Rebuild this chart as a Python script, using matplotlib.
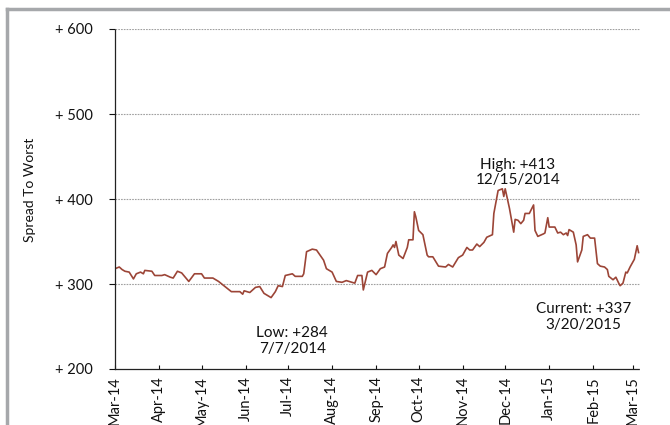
import pandas as pd
import matplotlib
matplotlib.use("Agg")
import matplotlib.pyplot as plt
import matplotlib.dates as mdates
from matplotlib.lines import Line2D
from matplotlib.ticker import FuncFormatter

plt.rcParams['font.family'] = ['Lato', 'DejaVu Sans']

dates = [
    "2014-03-01", "2014-03-04", "2014-03-06", "2014-03-08", "2014-03-11", "2014-03-14",
    "2014-03-16", "2014-03-19", "2014-03-21", "2014-03-22", "2014-03-27", "2014-03-29",
    "2014-04-03", "2014-04-05", "2014-04-09", "2014-04-11", "2014-04-14", "2014-04-17",
    "2014-04-20", "2014-04-22", "2014-04-26", "2014-05-01", "2014-05-03", "2014-05-09",
    "2014-05-13", "2014-05-16", "2014-05-19", "2014-05-22", "2014-05-28", "2014-05-30",
    "2014-05-31", "2014-06-04", "2014-06-08", "2014-06-11", "2014-06-14", "2014-06-19",
    "2014-06-22", "2014-06-24", "2014-06-27", "2014-06-29", "2014-07-04", "2014-07-06",
    "2014-07-11", "2014-07-12", "2014-07-14", "2014-07-18", "2014-07-21", "2014-07-26",
    "2014-07-28", "2014-08-01", "2014-08-04", "2014-08-08", "2014-08-11", "2014-08-15",
    "2014-08-17", "2014-08-19", "2014-08-22", "2014-08-23", "2014-08-26", "2014-08-29",
    "2014-09-01", "2014-09-04", "2014-09-07", "2014-09-09", "2014-09-12", "2014-09-13",
    "2014-09-14", "2014-09-15", "2014-09-17", "2014-09-20", "2014-09-23", "2014-09-24",
    "2014-09-27", "2014-09-28", "2014-09-29", "2014-10-01", "2014-10-04", "2014-10-07",
    "2014-10-08", "2014-10-11", "2014-10-15", "2014-10-20", "2014-10-22", "2014-10-25",
    "2014-10-29", "2014-11-01", "2014-11-04", "2014-11-06", "2014-11-08", "2014-11-11",
    "2014-11-13", "2014-11-16", "2014-11-18", "2014-11-22", "2014-11-23", "2014-11-26",
    "2014-11-29", "2014-11-30", "2014-12-01", "2014-12-04", "2014-12-07", "2014-12-08",
    "2014-12-10", "2014-12-12", "2014-12-14", "2014-12-15", "2014-12-18", "2014-12-21",
    "2014-12-22", "2014-12-24", "2014-12-28", "2014-12-29", "2014-12-31", "2015-01-01",
    "2015-01-05", "2015-01-07", "2015-01-09", "2015-01-11", "2015-01-13", "2015-01-14",
    "2015-01-15", "2015-01-18", "2015-01-20", "2015-01-21", "2015-01-24", "2015-01-25",
    "2015-01-28", "2015-01-30", "2015-02-02", "2015-02-04", "2015-02-06", "2015-02-09",
    "2015-02-11", "2015-02-12", "2015-02-15", "2015-02-17", "2015-02-19", "2015-02-20",
    "2015-02-22", "2015-02-24", "2015-02-25", "2015-02-27", "2015-03-02", "2015-03-04",
    "2015-03-05",
]
spread = [
    318, 320, 317, 315, 314, 306,
    312, 314, 312, 316, 315, 310,
    310, 311, 308, 307, 315, 313,
    307, 303, 312, 312, 307, 307,
    303, 299, 295, 291, 291, 288,
    292, 290, 296, 297, 289, 284,
    291, 298, 297, 310, 312, 309,
    309, 312, 338, 341, 340, 328,
    318, 314, 303, 302, 304, 302,
    301, 310, 310, 293, 314, 316,
    311, 318, 320, 336, 343, 346,
    343, 350, 334, 330, 343, 352,
    352, 385, 379, 363, 358, 334,
    332, 332, 321, 320, 323, 320,
    331, 334, 343, 340, 340, 347,
    344, 349, 355, 358, 383, 410,
    412, 403, 412, 389, 361, 376,
    375, 371, 375, 383, 383, 393,
    363, 356, 359, 360, 378, 367,
    367, 360, 361, 358, 360, 357,
    364, 361, 346, 326, 340, 356,
    358, 354, 354, 324, 321, 320,
    317, 309, 305, 308, 301, 298,
    301, 314, 313, 320, 329, 345,
    337,
]
month_ticks = pd.date_range("2014-03-01", "2015-03-01", freq="MS")
y_ticks = [200, 300, 400, 500, 600]

notes = [
    ("High: +413\n12/15/2014", "2014-12-10", 431),
    ("Low: +284\n7/7/2014", "2014-07-04", 233),
    ("Current: +337\n3/20/2015", "2015-01-25", 261),
]

x = pd.to_datetime(dates)

fig = plt.figure(figsize=(6.7, 4.25), dpi=100)
ax = fig.add_axes([115 / 670, 1 - 369 / 425, 525 / 670, 340 / 425])

# gray outer frame (cut off at right and bottom)
fx = 7 / 670
fy = 1 - 9 / 425
fig.add_artist(Line2D([fx, fx], [0.0, fy], transform=fig.transFigure,
                      color='#a6a8ab', linewidth=2.5))
fig.add_artist(Line2D([fx, 1.0], [fy, fy], transform=fig.transFigure,
                      color='#a6a8ab', linewidth=2.5))

ax.plot(x, spread, color='#9c4537', linewidth=1.2)

ax.set_ylim(200, 600)
ax.set_xlim(pd.Timestamp("2014-03-01"), pd.Timestamp("2015-03-06"))
ax.set_yticks(y_ticks)
ax.yaxis.set_major_formatter(FuncFormatter(lambda v, p: "+ %d" % v))
ax.set_xticks(month_ticks)
ax.xaxis.set_major_formatter(mdates.DateFormatter("%b-%y"))

for v in y_ticks[1:]:
    ax.axhline(v, color='#a0a0a0', linewidth=0.8, linestyle=(0, (1.5, 1)), zorder=0)

for side in ['top', 'right']:
    ax.spines[side].set_visible(False)
for side in ['left', 'bottom']:
    ax.spines[side].set_linestyle((0, (1.5, 1)))
    ax.spines[side].set_linewidth(0.9)
    ax.spines[side].set_color('#222222')

ax.tick_params(axis='y', direction='out', length=4, width=0.8, pad=12, labelsize=10.5,
               colors='#111111')
ax.tick_params(axis='x', direction='in', length=3, width=0.8, pad=5, labelsize=10.5,
               labelrotation=90, colors='#111111')

fig.text(30 / 670, 1 - 190 / 425, "Spread To Worst", rotation=90, ha='center', va='center',
         fontsize=10, color='#111111')

for txt, d, v in notes:
    ax.text(pd.Timestamp(d), v, txt, ha='center', va='center', fontsize=11,
            color='#111111', linespacing=1.15)

fig.savefig("out.png", dpi=100)
